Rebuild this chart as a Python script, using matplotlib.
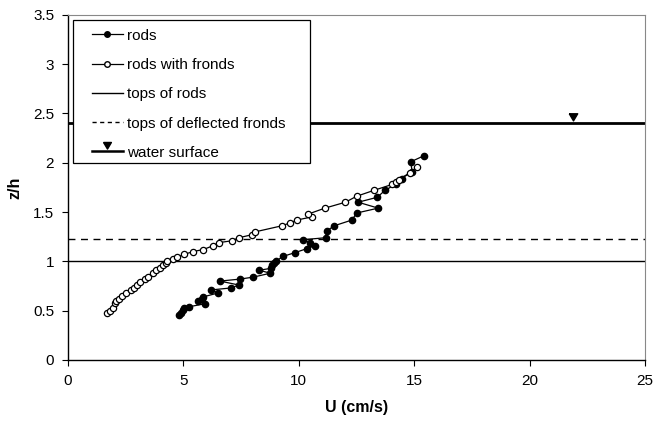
import matplotlib.pyplot as plt
from matplotlib.lines import Line2D
from matplotlib.patches import Rectangle

plt.rcParams['font.family'] = ['Liberation Sans', 'DejaVu Sans']

# rods (filled circles)
rods_u = [4.80, 4.88, 4.97, 5.02, 5.25, 5.93, 5.64, 5.79, 5.86, 6.51, 6.18, 7.04,
          7.41, 6.58, 7.44, 8.02, 8.77, 8.28, 8.81, 8.82, 8.91, 9.00, 9.31, 9.85,
          10.36, 10.72, 10.48, 10.19, 11.17, 11.20, 11.52, 12.31, 12.50, 13.44,
          12.57, 13.40, 13.73, 14.19, 14.45, 14.91, 14.85, 15.41]
rods_z = [0.455, 0.48, 0.51, 0.53, 0.54, 0.57, 0.60, 0.62, 0.64, 0.68, 0.71, 0.73,
          0.76, 0.80, 0.82, 0.84, 0.88, 0.91, 0.93, 0.96, 0.98, 1.00, 1.05, 1.09,
          1.13, 1.16, 1.19, 1.22, 1.24, 1.305, 1.36, 1.42, 1.49, 1.54,
          1.60, 1.65, 1.72, 1.78, 1.84, 1.91, 2.01, 2.07]

# rods with fronds (open circles)
fronds_u = [1.70, 1.82, 1.93, 2.03, 2.10, 2.22, 2.36, 2.53, 2.71, 2.85, 3.00, 3.14,
            3.33, 3.47, 3.66, 3.81, 3.98, 4.13, 4.24, 4.30, 4.53, 4.71, 5.02, 5.43,
            5.86, 6.30, 6.54, 7.12, 7.41, 7.96, 8.12, 9.25, 9.62, 9.93, 10.55, 10.41,
            11.13, 12.02, 12.50, 13.25, 14.04, 14.23, 14.32, 14.83, 15.14]
fronds_z = [0.48, 0.50, 0.53, 0.58, 0.60, 0.62, 0.65, 0.68, 0.71, 0.73, 0.76, 0.79,
            0.82, 0.84, 0.88, 0.91, 0.93, 0.96, 0.98, 1.00, 1.02, 1.04, 1.07, 1.10,
            1.12, 1.16, 1.19, 1.21, 1.24, 1.27, 1.30, 1.36, 1.39, 1.42, 1.45, 1.48,
            1.54, 1.60, 1.66, 1.72, 1.78, 1.81, 1.83, 1.90, 1.96]

rod_top = 1.0
frond_top = 1.23
water_z = 2.4
water_mark_u = 21.9

# triangle sitting above its anchor point
tri = [(-0.65, 1.5), (0.65, 1.5), (0.0, 0.4), (-0.65, 1.5)]

fig = plt.figure(figsize=(6.67, 4.25), dpi=100)
ax = fig.add_axes([0.102, 0.153, 0.865, 0.812])

ax.axhline(rod_top, color='black', lw=1.0)
ax.axhline(frond_top, color='black', lw=1.0, ls=(0, (5, 4)))
ax.axhline(water_z, color='black', lw=2.0)
ax.plot([water_mark_u], [water_z], ls='none', marker=tri, ms=14, color='black')

ax.plot(rods_u, rods_z, '-o', color='black', lw=0.9, ms=4.5,
        mfc='black', mec='black')
ax.plot(fronds_u, fronds_z, '-o', color='black', lw=0.9, ms=4.5,
        mfc='white', mec='black', mew=0.9)

ax.set_xlim(0, 25)
ax.set_ylim(0, 3.5)
ax.set_xticks([0, 5, 10, 15, 20, 25])
ax.set_yticks([0, 0.5, 1, 1.5, 2, 2.5, 3, 3.5])
ax.set_yticklabels(['0', '0.5', '1', '1.5', '2', '2.5', '3', '3.5'])
ax.tick_params(direction='out', length=4, width=0.8, labelsize=11, pad=6)
ax.set_xlabel('U (cm/s)', fontsize=11.5, fontweight='bold', labelpad=9)
ax.set_ylabel('z/h', fontsize=11.5, fontweight='bold', labelpad=8)

for side in ['left', 'bottom']:
    ax.spines[side].set_linewidth(1.0)
for side in ['top', 'right']:
    ax.spines[side].set_color('#888888')
    ax.spines[side].set_linewidth(0.8)

# legend frame drawn separately (wide side padding like the original)
ax.add_patch(Rectangle((0.0087, 0.571), 0.41, 0.4145, transform=ax.transAxes,
                       facecolor='white', edgecolor='black', lw=0.9, zorder=4))

handles = [
    Line2D([], [], color='black', lw=0.9, marker='o', ms=4, mfc='black'),
    Line2D([], [], color='black', lw=0.9, marker='o', ms=4, mfc='white'),
    Line2D([], [], color='black', lw=1.0),
    Line2D([], [], color='black', lw=1.0, ls=(0, (3, 2.5))),
    Line2D([], [], color='black', lw=1.8, marker=tri, ms=13),
]
labels = ['rods', 'rods with fronds', 'tops of rods',
          'tops of deflected fronds', 'water surface']
leg = ax.legend(handles, labels, loc='upper left', bbox_to_anchor=(0.0416, 0.96),
                fontsize=11, frameon=False, handlelength=2.0, handletextpad=0.3,
                labelspacing=1.0, borderpad=0, numpoints=1, borderaxespad=0)
leg.set_zorder(5)

fig.savefig('out.png', dpi=100, facecolor='white')
